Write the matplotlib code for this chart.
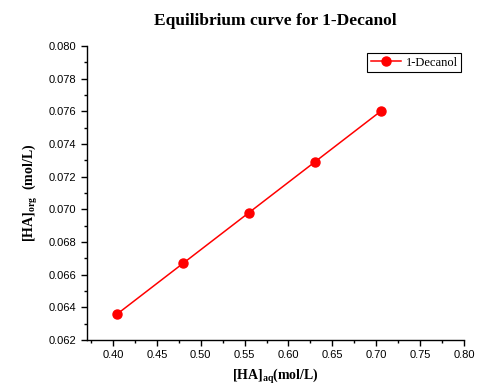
import numpy as np
import matplotlib
matplotlib.use('Agg')
import matplotlib.pyplot as plt

# data
ha_aq = [0.405, 0.48, 0.555, 0.63, 0.705]
ha_org = [0.0636, 0.0667, 0.0698, 0.0729, 0.0760]
series_name = '1-Decanol'

plt.rcParams['font.family'] = 'Liberation Sans'
plt.rcParams['mathtext.fontset'] = 'custom'
plt.rcParams['mathtext.rm'] = 'Liberation Serif:bold'
plt.rcParams['mathtext.it'] = 'Liberation Serif:bold'
plt.rcParams['mathtext.bf'] = 'Liberation Serif:bold'

fig = plt.figure(figsize=(4.79, 3.87), dpi=100)
ax = fig.add_axes([0.1816, 0.1214, 0.787, 0.7597])

ax.plot(ha_aq, ha_org, color='red', lw=1.1, marker='o', ms=6.5, label=series_name)

ax.set_xlim(0.3704, 0.80)
ax.set_ylim(0.062, 0.080)
ax.set_xticks(np.arange(0.40, 0.801, 0.05))
ax.set_yticks(np.arange(0.062, 0.0801, 0.002))
ax.set_xticks(np.arange(0.375, 0.80, 0.05), minor=True)
ax.set_yticks(np.arange(0.063, 0.080, 0.002), minor=True)
ax.xaxis.set_major_formatter(matplotlib.ticker.FormatStrFormatter('%.2f'))
ax.yaxis.set_major_formatter(matplotlib.ticker.FormatStrFormatter('%.3f'))
ax.tick_params(which='major', direction='out', length=4, width=1, labelsize=8)
ax.tick_params(which='minor', direction='out', length=2.5, width=1)

for s in ['top', 'right']:
    ax.spines[s].set_visible(False)
for s in ['left', 'bottom']:
    ax.spines[s].set_linewidth(1)

ax.set_title('Equilibrium curve for 1-Decanol', fontfamily='Liberation Serif',
             fontweight='bold', fontsize=12.5, pad=15)
ax.set_xlabel(r'$\mathrm{[HA]_{aq}(mol/L)}$', fontsize=10, labelpad=5)
ax.set_ylabel(r'$\mathrm{[HA]_{org}\ \ (mol/L)}$', fontsize=10, labelpad=6)

leg = ax.legend(loc='upper right', bbox_to_anchor=(1.0, 0.985),
                prop={'family': 'Liberation Serif', 'size': 9},
                fancybox=False, edgecolor='black', framealpha=1,
                handlelength=2.4, borderpad=0.3, handletextpad=0.4,
                borderaxespad=0.2)
leg.get_frame().set_linewidth(0.8)

fig.savefig('out.png', dpi=100)
